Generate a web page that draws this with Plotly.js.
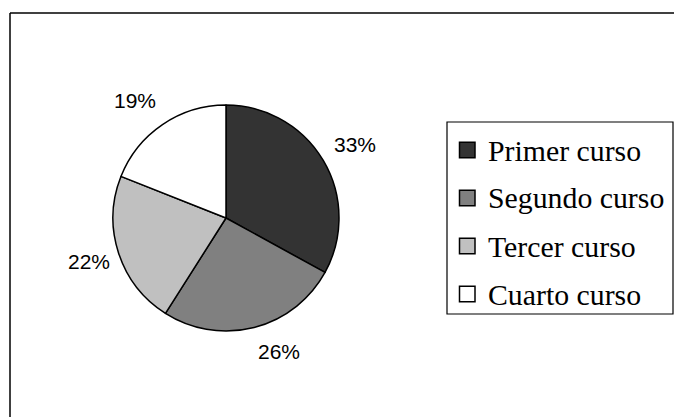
<!DOCTYPE html>
<html><head><meta charset="utf-8">
<script src="https://cdn.plot.ly/plotly-3.0.1.min.js"></script>
<style>html,body{margin:0;padding:0;background:#fff}#c{width:674px;height:417px}</style>
</head><body><div id="c"></div>
<script>
const categories = ["Primer curso", "Segundo curso", "Tercer curso", "Cuarto curso"];
const values = [33, 26, 22, 19];
const colors = ["#333333", "#808080", "#c0c0c0", "#ffffff"];

const W = 674, H = 417;
const cx = 226, cy = 218, r = 113;
const labelR = 146;
// small pixel nudges of the percentage labels (layout only)
const labelNudge = [[3, 1], [17, -8], [2, -1.5], [-8.5, 3]];

const trace = {
  type: "pie",
  labels: categories,
  values: values,
  sort: false,
  direction: "clockwise",
  rotation: 0,
  marker: {colors: colors, line: {color: "#000", width: 1.5}},
  textinfo: "none",
  hoverinfo: "none",
  showlegend: false,
  domain: {x: [(cx - r) / W, (cx + r) / W], y: [1 - (cy + r) / H, 1 - (cy - r) / H]}
};

const total = values.reduce((a, b) => a + b, 0);
const annotations = [];
const shapes = [
  {type: "line", xref: "paper", yref: "paper", x0: 10 / W, x1: 1.01, y0: 1 - 13 / H, y1: 1 - 13 / H, line: {color: "#000", width: 1.5}},
  {type: "line", xref: "paper", yref: "paper", x0: 10 / W, x1: 10 / W, y0: 1 - 13 / H, y1: -0.01, line: {color: "#000", width: 1.5}}
];

// percentage labels outside the pie, at each slice's mid angle
let cum = 0;
values.forEach((v, i) => {
  const mid = (cum + v / 2) / total * 2 * Math.PI;
  cum += v;
  const px = cx + labelR * Math.sin(mid) + labelNudge[i][0];
  const py = cy - labelR * Math.cos(mid) + labelNudge[i][1];
  annotations.push({
    xref: "paper", yref: "paper", x: px / W, y: 1 - py / H,
    xanchor: "center", yanchor: "middle", showarrow: false,
    text: Math.round(v / total * 100) + "%",
    font: {family: "Liberation Sans, Arial, sans-serif", size: 21, color: "#000"}
  });
});

// legend box
const lgL = 447, lgR = 673, lgT = 122, lgB = 314;
shapes.push({type: "rect", xref: "paper", yref: "paper", x0: lgL / W, x1: lgR / W, y0: 1 - lgB / H, y1: 1 - lgT / H,
  line: {color: "#000", width: 1.2}, fillcolor: "rgba(0,0,0,0)"});
const itemY0 = 150, itemGap = 48, sq = 15.5, sqX = 459.5;
categories.forEach((c, i) => {
  const yc = itemY0 + i * itemGap;
  shapes.push({type: "rect", xref: "paper", yref: "paper",
    x0: sqX / W, x1: (sqX + sq) / W, y0: 1 - (yc + sq / 2) / H, y1: 1 - (yc - sq / 2) / H,
    line: {color: "#000", width: 1.5}, fillcolor: colors[i]});
  annotations.push({
    xref: "paper", yref: "paper", x: 486 / W, y: 1 - yc / H,
    xanchor: "left", yanchor: "middle", showarrow: false, text: c,
    font: {family: "Liberation Serif, Times New Roman, serif", size: 29.8, color: "#000"}
  });
});

const layout = {
  width: W, height: H,
  margin: {l: 0, r: 0, t: 0, b: 0},
  paper_bgcolor: "#fff",
  showlegend: false,
  shapes: shapes,
  annotations: annotations
};

Plotly.newPlot("c", [trace], layout, {staticPlot: true, displayModeBar: false});
</script></body></html>
